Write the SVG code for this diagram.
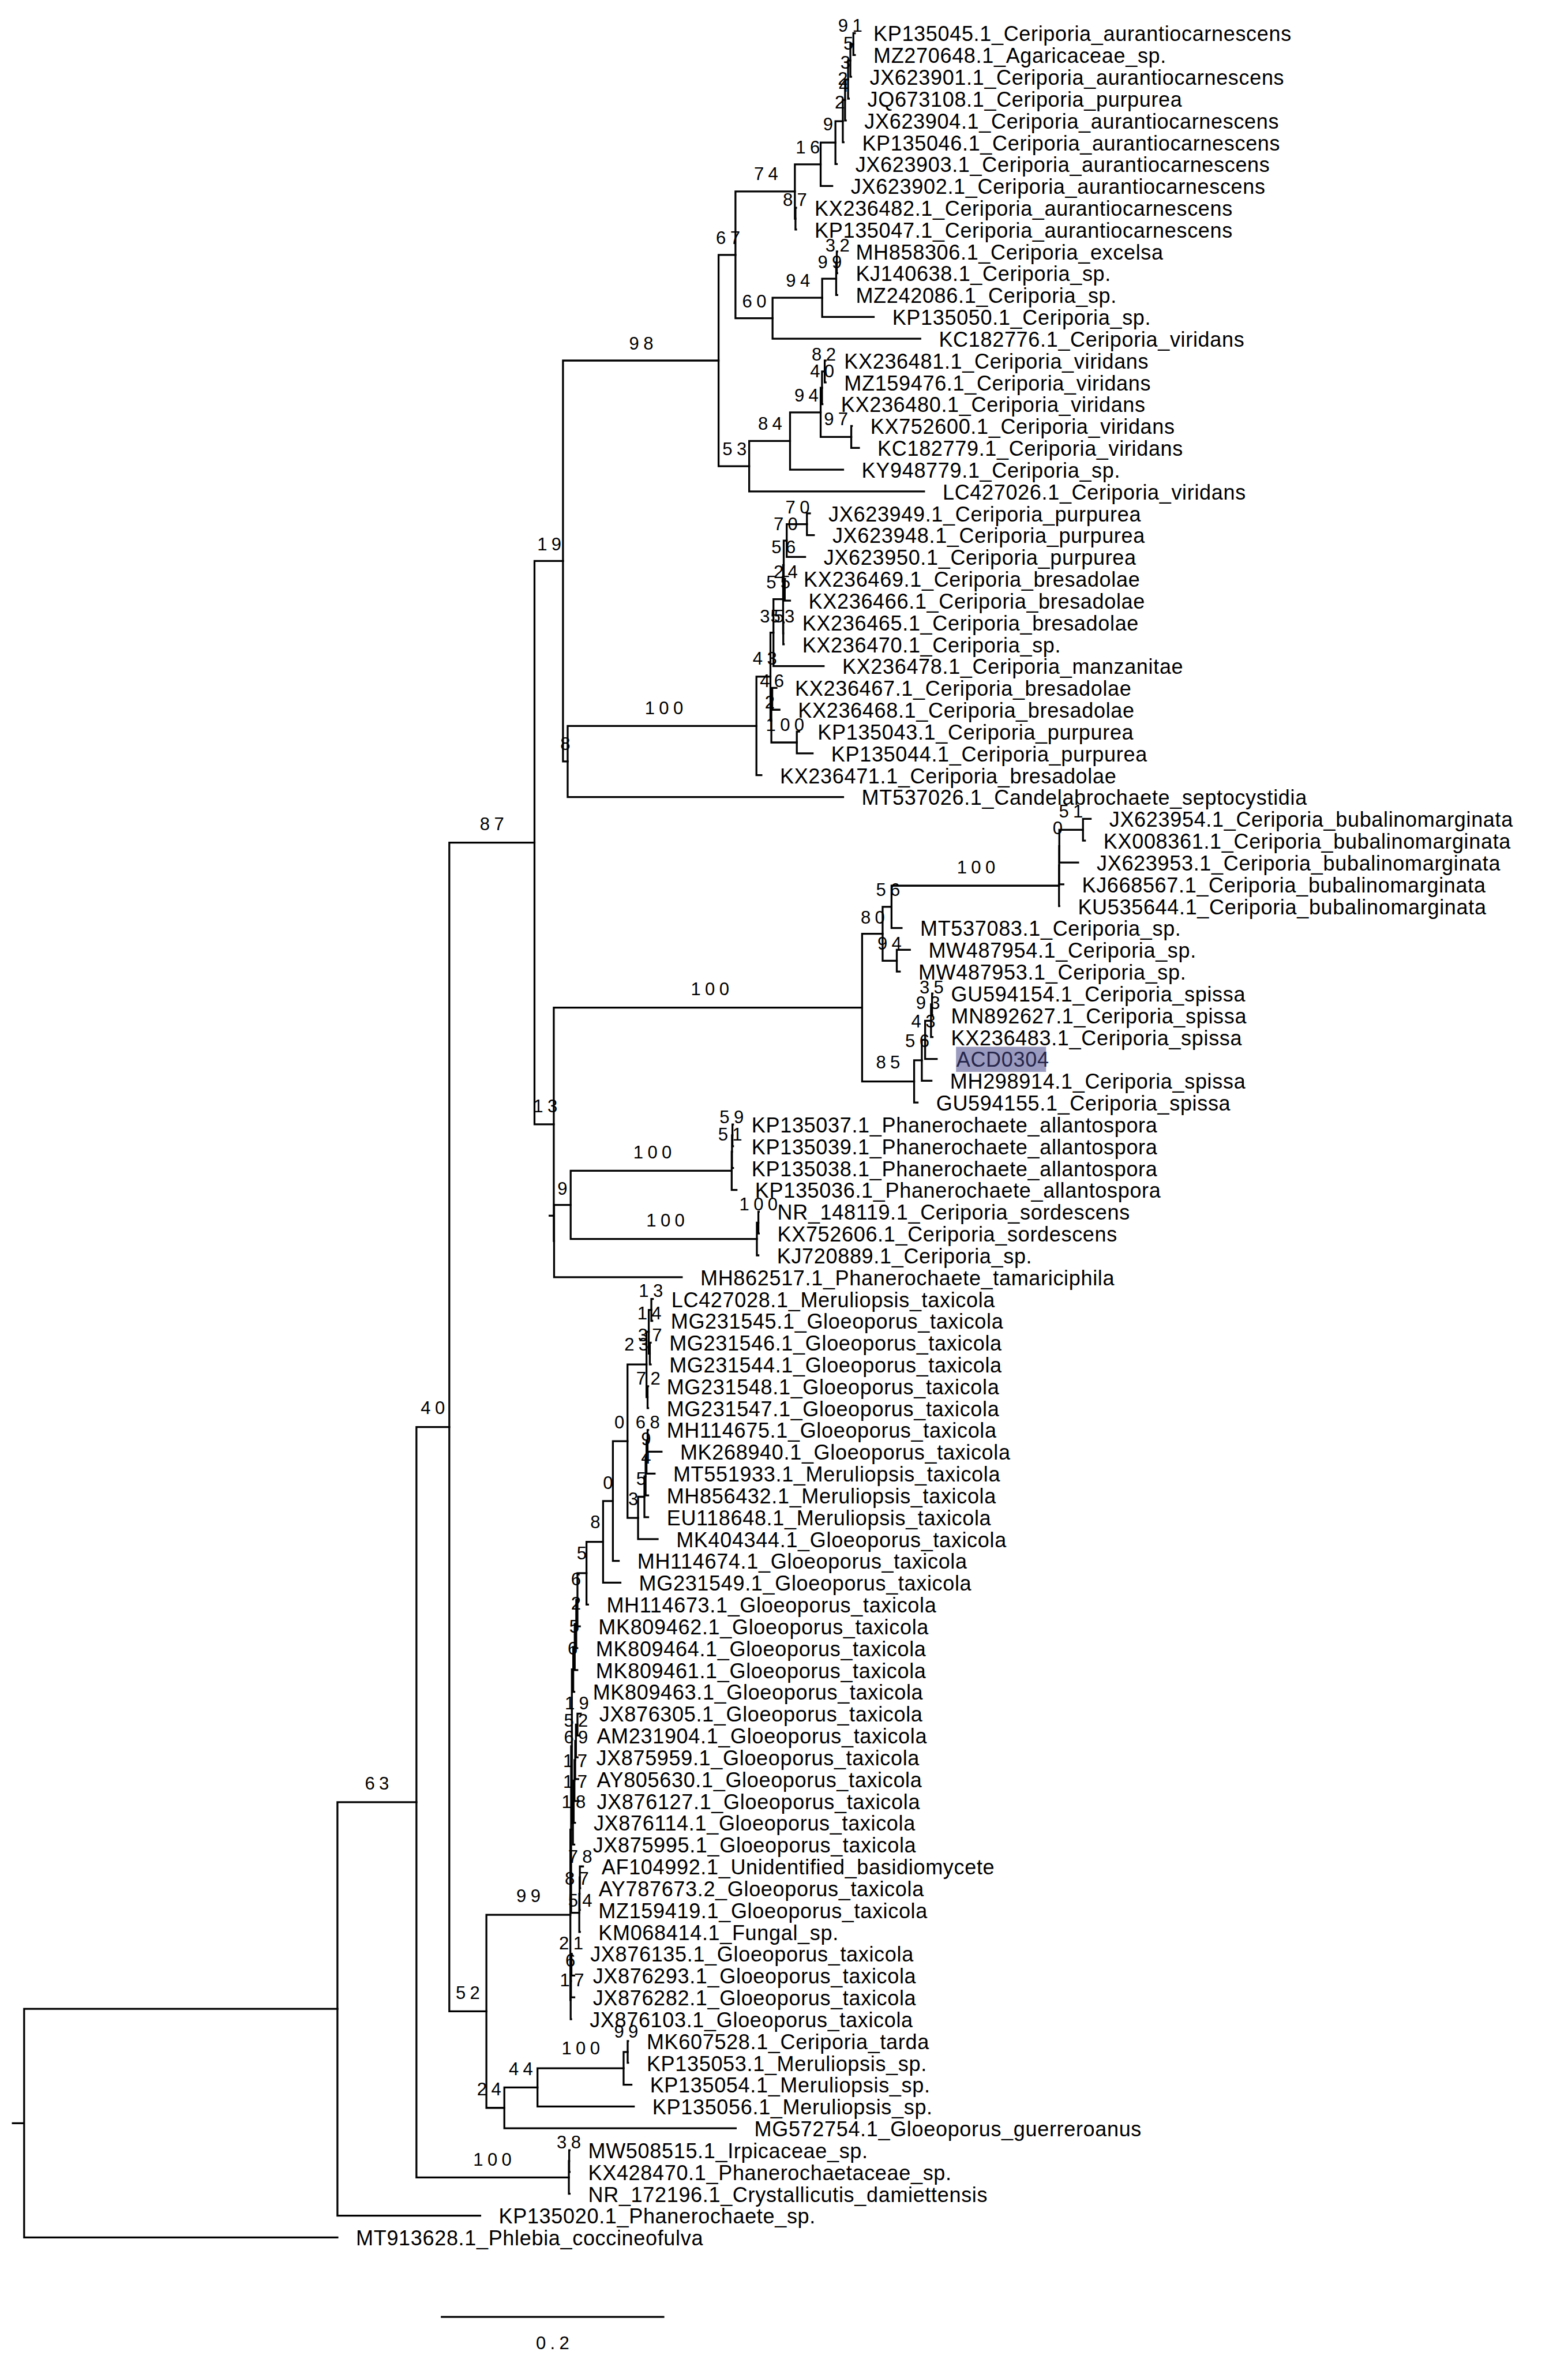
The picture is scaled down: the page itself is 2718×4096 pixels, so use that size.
<svg xmlns="http://www.w3.org/2000/svg" width="2718" height="4096" viewBox="0 0 2718 4096">
<style>
.b{stroke:#000;stroke-width:1.25;fill:none;stroke-linecap:square}
.t{font-family:"Liberation Sans",Arial,Helvetica,sans-serif;font-size:13.8px;letter-spacing:0.25px;fill:#000}
.s{font-family:"Liberation Sans",Arial,Helvetica,sans-serif;font-size:11.9px;letter-spacing:2.8px;text-anchor:middle;fill:#000}
</style>
<rect width="2718" height="4096" fill="#fff"/>
<g transform="scale(2.6135)">
<g id="branches" class="b">
<path d="M566 22V36.48M566 22H567M566 36.48H567"/>
<path d="M564 29.24V50.95M564 29.24H566M564 50.95H564.5"/>
<path d="M562.5 40.1V65.43M562.5 40.1H564M562.5 65.43H563"/>
<path d="M560.5 52.76V79.9M560.5 52.76H562.5M560.5 79.9H561"/>
<path d="M559 66.33V94.38M559 66.33H560.5M559 94.38H559.5"/>
<path d="M554.1 80.36V108.85M554.1 80.36H559M554.1 108.85H555"/>
<path d="M544.3 94.6V123.33M544.3 94.6H554.1M544.3 123.33H552"/>
<path d="M527.6 137.8V152.28M527.6 137.8H528M527.6 152.28H528"/>
<path d="M527.2 108.97V145.04M527.2 108.97H544.3M527.2 145.04H527.6"/>
<path d="M555 166.75V181.23M555 166.75H555.3M555 181.23H555.3"/>
<path d="M554.6 173.99V195.7M554.6 173.99H555M554.6 195.7H555.3"/>
<path d="M545.3 184.85V210.18M545.3 184.85H554.6M545.3 210.18H579.5"/>
<path d="M512.4 197.51V224.65M512.4 197.51H545.3M512.4 224.65H610.4"/>
<path d="M487.8 127V211.08M487.8 127H527.2M487.8 211.08H512.4"/>
<path d="M547 239.13V253.6M547 239.13H547.6M547 253.6H547.6"/>
<path d="M545.2 246.37V268.08M545.2 246.37H547M545.2 268.08H545.5"/>
<path d="M564.6 282.55V297.03M564.6 282.55H565M564.6 297.03H569.7"/>
<path d="M544.3 257.22V289.79M544.3 257.22H545.2M544.3 289.79H564.6"/>
<path d="M524 273.5V311.5M524 273.5H544.3M524 311.5H559.2"/>
<path d="M496.9 292.5V325.98M496.9 292.5H524M496.9 325.98H612.9"/>
<path d="M476.6 169.04V309.24M476.6 169.04H487.8M476.6 309.24H496.9"/>
<path d="M535.2 340.45V354.93M535.2 340.45H537.2M535.2 354.93H539.8"/>
<path d="M521.8 347.69V369.4M521.8 347.69H535.2M521.8 369.4H534"/>
<path d="M520.5 383.88V398.35M520.5 383.88H520.7M520.5 398.35H524"/>
<path d="M519.8 358.55V391.12M519.8 358.55H521.8M519.8 391.12H520.5"/>
<path d="M519.5 412.83V427.3M519.5 412.83H519.8M519.5 427.3H519.8"/>
<path d="M519.4 374.83V420.07M519.4 374.83H519.8M519.4 420.07H519.5"/>
<path d="M513 397.45V441.78M513 397.45H519.4M513 441.78H546.3"/>
<path d="M512.2 456.25V470.73M512.2 456.25H515M512.2 470.73H517"/>
<path d="M528.5 485.2V499.68M528.5 485.2H530M528.5 499.68H539"/>
<path d="M511.6 463.49V492.44M511.6 463.49H512.2M511.6 492.44H528.5"/>
<path d="M511 419.61V477.97M511 419.61H513M511 477.97H511.6"/>
<path d="M501.7 448.79V514.15M501.7 448.79H511M501.7 514.15H505"/>
<path d="M376.5 481.47V528.63M376.5 481.47H501.7M376.5 528.63H559.2"/>
<path d="M373.4 239.14V505.05M373.4 239.14H476.6M373.4 505.05H376.5"/>
<path d="M718.3 543.1V557.58M718.3 543.1H723.4M718.3 557.58H719.6"/>
<path d="M702.6 550.34V572.05M702.6 550.34H718.3M702.6 572.05H715.1"/>
<path d="M702.5 561.2V586.53M702.5 561.2H702.6M702.5 586.53H705.3"/>
<path d="M702.4 573.86V601M702.4 573.86H702.5M702.4 601H702.6"/>
<path d="M591.3 587.43V615.48M591.3 587.43H702.4M591.3 615.48H598"/>
<path d="M594.8 629.95V644.43M594.8 629.95H603.5M594.8 644.43H596.8"/>
<path d="M585.4 601.45V637.19M585.4 601.45H591.3M585.4 637.19H594.8"/>
<path d="M618.2 658.9V673.38M618.2 658.9H618.5M618.2 673.38H618.5"/>
<path d="M617.5 666.14V687.85M617.5 666.14H618.2M617.5 687.85H618.5"/>
<path d="M613.6 677V702.33M613.6 677H617.5M613.6 702.33H621.3"/>
<path d="M611.4 689.66V716.8M611.4 689.66H613.6M611.4 716.8H617.8"/>
<path d="M606.3 703.23V731.28M606.3 703.23H611.4M606.3 731.28H608.6"/>
<path d="M571.8 619.32V717.25M571.8 619.32H585.4M571.8 717.25H606.3"/>
<path d="M485.8 745.75V760.23M485.8 745.75H486.2M485.8 760.23H486.2"/>
<path d="M485.5 752.99V774.7M485.5 752.99H485.8M485.5 774.7H486.2"/>
<path d="M485.3 763.85V789.18M485.3 763.85H485.5M485.3 789.18H488.5"/>
<path d="M503 803.65V818.13M503 803.65H503.3M503 818.13H503.3"/>
<path d="M502 810.89V832.6M502 810.89H503M502 832.6H503"/>
<path d="M378.5 776.51V821.75M378.5 776.51H485.3M378.5 821.75H502"/>
<path d="M367.5 799.13V847.08M367.5 799.13H378.5M367.5 847.08H452.2"/>
<path d="M367.3 668.29V823.1M367.3 668.29H571.8M367.3 823.1H367.5"/>
<path d="M364.5 806.3H366.8"/>
<path d="M354.5 372.1V745.7M354.5 372.1H373.4M354.5 745.7H367.3"/>
<path d="M432 861.55V876.03M432 861.55H433M432 876.03H432.6"/>
<path d="M431 890.5V904.98M431 890.5H431.6M431 904.98H431.6"/>
<path d="M430.3 868.79V897.74M430.3 868.79H432M430.3 897.74H431"/>
<path d="M429.5 919.45V933.93M429.5 919.45H429.9M429.5 933.93H429.9"/>
<path d="M428.8 883.27V926.69M428.8 883.27H430.3M428.8 926.69H429.5"/>
<path d="M429.5 948.4V962.88M429.5 948.4H429.9M429.5 962.88H438.8"/>
<path d="M428.8 955.64V977.35M428.8 955.64H429.5M428.8 977.35H434.2"/>
<path d="M428.2 966.5V991.83M428.2 966.5H428.8M428.2 991.83H429.9"/>
<path d="M427.4 979.16V1006.3M427.4 979.16H428.2M427.4 1006.3H429.9"/>
<path d="M423.2 992.73V1020.78M423.2 992.73H427.4M423.2 1020.78H436.2"/>
<path d="M416.2 904.98V1006.76M416.2 904.98H428.8M416.2 1006.76H423.2"/>
<path d="M406.5 955.87V1035.25M406.5 955.87H416.2M406.5 1035.25H410.4"/>
<path d="M400 995.56V1049.73M400 995.56H406.5M400 1049.73H411.5"/>
<path d="M389 1022.65V1064.2M389 1022.65H400M389 1064.2H390"/>
<path d="M383 1043.42V1078.68M383 1043.42H389M383 1078.68H384.6"/>
<path d="M382.2 1061.05V1093.15M382.2 1061.05H383M382.2 1093.15H382.9"/>
<path d="M381.2 1077.1V1107.63M381.2 1077.1H382.2M381.2 1107.63H382.9"/>
<path d="M380.2 1092.37V1122.1M380.2 1092.37H381.2M380.2 1122.1H380.9"/>
<path d="M383 1136.58V1151.05M383 1136.58H385.2M383 1151.05H383.5"/>
<path d="M382 1143.82V1165.53M382 1143.82H383M382 1165.53H383.1"/>
<path d="M381.5 1154.67V1180M381.5 1154.67H382M381.5 1180H383.5"/>
<path d="M381 1167.34V1194.48M381 1167.34H381.5M381 1194.48H383.5"/>
<path d="M380.5 1180.91V1208.95M380.5 1180.91H381M380.5 1208.95H381.4"/>
<path d="M380 1194.93V1223.43M380 1194.93H380.5M380 1223.43H380.9"/>
<path d="M379.3 1107.23V1209.18M379.3 1107.23H380.2M379.3 1209.18H380"/>
<path d="M384.6 1237.9V1252.38M384.6 1237.9H386.7M384.6 1252.38H384.8"/>
<path d="M384.4 1245.14V1266.85M384.4 1245.14H384.6M384.4 1266.85H384.6"/>
<path d="M384.2 1256V1281.33M384.2 1256H384.4M384.2 1281.33H384.6"/>
<path d="M378.8 1158.2V1268.66M378.8 1158.2H379.3M378.8 1268.66H384.2"/>
<path d="M379 1295.8V1310.28M379 1295.8H379.2M379 1310.28H380.9"/>
<path d="M378.7 1303.04V1324.75M378.7 1303.04H379M378.7 1324.75H380.9"/>
<path d="M378.5 1313.9V1339.23M378.5 1313.9H378.7M378.5 1339.23H378.8"/>
<path d="M378.3 1213.43V1326.56M378.3 1213.43H378.8M378.3 1326.56H378.5"/>
<path d="M416.3 1353.7V1368.18M416.3 1353.7H416.6M416.3 1368.18H416.6"/>
<path d="M413.6 1360.94V1382.65M413.6 1360.94H416.3M413.6 1382.65H418.8"/>
<path d="M356.5 1371.8V1397.13M356.5 1371.8H413.6M356.5 1397.13H420.4"/>
<path d="M334.5 1384.46V1411.6M334.5 1384.46H356.5M334.5 1411.6H488"/>
<path d="M322.6 1270V1398.03M322.6 1270H378.3M322.6 1398.03H334.5"/>
<path d="M298 558.9V1334M298 558.9H354.5M298 1334H322.6"/>
<path d="M377.5 1426.08V1440.55M377.5 1426.08H377.8M377.5 1440.55H377.8"/>
<path d="M377.3 1433.32V1455.03M377.3 1433.32H377.5M377.3 1455.03H377.8"/>
<path d="M276.2 946.45V1444.17M276.2 946.45H298M276.2 1444.17H377.3"/>
<path d="M223.8 1195.3V1469.5M223.8 1195.3H276.2M223.8 1469.5H318.5"/>
<path d="M16 1332.4V1483.98M16 1332.4H223.8M16 1483.98H223.8M8.5 1408.2H16"/>
</g>
<g id="scalebar">
<path class="b" d="M293 1536.7H440"/>
<text class="s" x="367.9" y="1558">0.2</text>
</g>
<g id="support" transform="translate(1.4 0)">
<text class="s" x="563.9" y="21.2">91</text>
<text class="s" x="562.7" y="32.9">5</text>
<text class="s" x="560.7" y="45.6">3</text>
<text class="s" x="559" y="56.2">2</text>
<text class="s" x="559.7" y="60.9">4</text>
<text class="s" x="557" y="72">2</text>
<text class="s" x="549.2" y="86.3">9</text>
<text class="s" x="535.8" y="101.7">16</text>
<text class="s" x="508.1" y="119.2">74</text>
<text class="s" x="527.2" y="136.6">87</text>
<text class="s" x="482.9" y="161.7">67</text>
<text class="s" x="555.5" y="166.7">32</text>
<text class="s" x="550.4" y="177.9">99</text>
<text class="s" x="529.3" y="190.1">94</text>
<text class="s" x="500.3" y="203.8">60</text>
<text class="s" x="425.3" y="231.8">98</text>
<text class="s" x="546.4" y="239">82</text>
<text class="s" x="545.3" y="250.1">40</text>
<text class="s" x="534.9" y="266.4">94</text>
<text class="s" x="554.5" y="282.1">97</text>
<text class="s" x="510.8" y="285.1">84</text>
<text class="s" x="487.2" y="302">53</text>
<text class="s" x="529" y="340.7">70</text>
<text class="s" x="521.1" y="351.8">70</text>
<text class="s" x="364.3" y="365.1">19</text>
<text class="s" x="519.7" y="367.1">56</text>
<text class="s" x="521.1" y="383.5">24</text>
<text class="s" x="516.2" y="390.1">55</text>
<text class="s" x="512" y="412.7">35</text>
<text class="s" x="519" y="412.7">53</text>
<text class="s" x="507.3" y="440.9">43</text>
<text class="s" x="512" y="455.6">46</text>
<text class="s" x="510.6" y="469.7">2</text>
<text class="s" x="440.4" y="473.8">100</text>
<text class="s" x="520.7" y="484.8">100</text>
<text class="s" x="374.9" y="497.6">8</text>
<text class="s" x="710.3" y="542">51</text>
<text class="s" x="326.3" y="550.6">87</text>
<text class="s" x="701.5" y="553.1">0</text>
<text class="s" x="647.4" y="579.4">100</text>
<text class="s" x="589" y="594.1">56</text>
<text class="s" x="578.9" y="612.6">80</text>
<text class="s" x="590" y="629.8">94</text>
<text class="s" x="617.9" y="658.9">35</text>
<text class="s" x="470.9" y="660.2">100</text>
<text class="s" x="615.5" y="669.4">93</text>
<text class="s" x="612.4" y="681.3">43</text>
<text class="s" x="608.4" y="694.5">56</text>
<text class="s" x="589" y="708.8">85</text>
<text class="s" x="361.7" y="737.6">13</text>
<text class="s" x="485.3" y="744.8">59</text>
<text class="s" x="484.3" y="756.6">51</text>
<text class="s" x="432.8" y="768.2">100</text>
<text class="s" x="373" y="792.3">9</text>
<text class="s" x="503.1" y="802.9">100</text>
<text class="s" x="441.4" y="813.5">100</text>
<text class="s" x="431.7" y="860.3">13</text>
<text class="s" x="430.7" y="875">14</text>
<text class="s" x="431.1" y="889.7">37</text>
<text class="s" x="422.1" y="895.9">23</text>
<text class="s" x="430" y="918.5">72</text>
<text class="s" x="287.1" y="937.9">40</text>
<text class="s" x="410.8" y="947.3">0</text>
<text class="s" x="429.6" y="947.3">68</text>
<text class="s" x="428.5" y="958.3">9</text>
<text class="s" x="428.5" y="970.6">4</text>
<text class="s" x="425.3" y="984.7">5</text>
<text class="s" x="403.3" y="987.7">0</text>
<text class="s" x="420" y="998.1">3</text>
<text class="s" x="394.8" y="1013.5">8</text>
<text class="s" x="385.8" y="1034.3">5</text>
<text class="s" x="382" y="1051.5">6</text>
<text class="s" x="382" y="1067.7">2</text>
<text class="s" x="380.9" y="1082.7">5</text>
<text class="s" x="379.8" y="1097.2">6</text>
<text class="s" x="382.6" y="1133.7">19</text>
<text class="s" x="382" y="1145.3">52</text>
<text class="s" x="382" y="1156.3">69</text>
<text class="s" x="381.5" y="1171.9">17</text>
<text class="s" x="250" y="1186.9">63</text>
<text class="s" x="381.5" y="1185.8">17</text>
<text class="s" x="380.5" y="1199.1">18</text>
<text class="s" x="384.8" y="1235.6">78</text>
<text class="s" x="382.6" y="1250.1">87</text>
<text class="s" x="350.5" y="1261.7">99</text>
<text class="s" x="384.8" y="1264.5">54</text>
<text class="s" x="378.8" y="1292.9">21</text>
<text class="s" x="378.3" y="1304.5">6</text>
<text class="s" x="379.4" y="1317.2">17</text>
<text class="s" x="310.3" y="1325.7">52</text>
<text class="s" x="415.3" y="1351.4">99</text>
<text class="s" x="385.2" y="1362.4">100</text>
<text class="s" x="345.5" y="1376.2">44</text>
<text class="s" x="324.4" y="1389.7">24</text>
<text class="s" x="377.3" y="1425">38</text>
<text class="s" x="326.6" y="1436.3">100</text>
</g>
<g id="leaves" class="t">
<g id="leaf-KP135045"><text x="579.3" y="27.3">KP135045.1_Ceriporia_aurantiocarnescens</text></g>
<g id="leaf-MZ270648"><text x="579.3" y="41.78">MZ270648.1_Agaricaceae_sp.</text></g>
<g id="leaf-JX623901"><text x="576.8" y="56.25">JX623901.1_Ceriporia_aurantiocarnescens</text></g>
<g id="leaf-JQ673108"><text x="575.3" y="70.73">JQ673108.1_Ceriporia_purpurea</text></g>
<g id="leaf-JX623904"><text x="573.3" y="85.2">JX623904.1_Ceriporia_aurantiocarnescens</text></g>
<g id="leaf-KP135046"><text x="571.8" y="99.68">KP135046.1_Ceriporia_aurantiocarnescens</text></g>
<g id="leaf-JX623903"><text x="567.3" y="114.15">JX623903.1_Ceriporia_aurantiocarnescens</text></g>
<g id="leaf-JX623902"><text x="564.3" y="128.63">JX623902.1_Ceriporia_aurantiocarnescens</text></g>
<g id="leaf-KX236482"><text x="540.3" y="143.1">KX236482.1_Ceriporia_aurantiocarnescens</text></g>
<g id="leaf-KP135047"><text x="540.3" y="157.58">KP135047.1_Ceriporia_aurantiocarnescens</text></g>
<g id="leaf-MH858306"><text x="567.6" y="172.05">MH858306.1_Ceriporia_excelsa</text></g>
<g id="leaf-KJ140638"><text x="567.6" y="186.53">KJ140638.1_Ceriporia_sp.</text></g>
<g id="leaf-MZ242086"><text x="567.6" y="201">MZ242086.1_Ceriporia_sp.</text></g>
<g id="leaf-KP135050"><text x="591.8" y="215.48">KP135050.1_Ceriporia_sp.</text></g>
<g id="leaf-KC182776"><text x="622.7" y="229.95">KC182776.1_Ceriporia_viridans</text></g>
<g id="leaf-KX236481"><text x="559.9" y="244.43">KX236481.1_Ceriporia_viridans</text></g>
<g id="leaf-MZ159476"><text x="559.9" y="258.9">MZ159476.1_Ceriporia_viridans</text></g>
<g id="leaf-KX236480"><text x="557.8" y="273.38">KX236480.1_Ceriporia_viridans</text></g>
<g id="leaf-KX752600"><text x="577.3" y="287.85">KX752600.1_Ceriporia_viridans</text></g>
<g id="leaf-KC182779"><text x="582" y="302.33">KC182779.1_Ceriporia_viridans</text></g>
<g id="leaf-KY948779"><text x="571.5" y="316.8">KY948779.1_Ceriporia_sp.</text></g>
<g id="leaf-LC427026"><text x="625.2" y="331.28">LC427026.1_Ceriporia_viridans</text></g>
<g id="leaf-JX623949"><text x="549.5" y="345.75">JX623949.1_Ceriporia_purpurea</text></g>
<g id="leaf-JX623948"><text x="552.1" y="360.23">JX623948.1_Ceriporia_purpurea</text></g>
<g id="leaf-JX623950"><text x="546.3" y="374.7">JX623950.1_Ceriporia_purpurea</text></g>
<g id="leaf-KX236469"><text x="533" y="389.18">KX236469.1_Ceriporia_bresadolae</text></g>
<g id="leaf-KX236466"><text x="536.3" y="403.65">KX236466.1_Ceriporia_bresadolae</text></g>
<g id="leaf-KX236465"><text x="532.1" y="418.13">KX236465.1_Ceriporia_bresadolae</text></g>
<g id="leaf-KX236470"><text x="532.1" y="432.6">KX236470.1_Ceriporia_sp.</text></g>
<g id="leaf-KX236478"><text x="558.6" y="447.08">KX236478.1_Ceriporia_manzanitae</text></g>
<g id="leaf-KX236467"><text x="527.3" y="461.55">KX236467.1_Ceriporia_bresadolae</text></g>
<g id="leaf-KX236468"><text x="529.3" y="476.03">KX236468.1_Ceriporia_bresadolae</text></g>
<g id="leaf-KP135043"><text x="542.3" y="490.5">KP135043.1_Ceriporia_purpurea</text></g>
<g id="leaf-KP135044"><text x="551.3" y="504.98">KP135044.1_Ceriporia_purpurea</text></g>
<g id="leaf-KX236471"><text x="517.3" y="519.45">KX236471.1_Ceriporia_bresadolae</text></g>
<g id="leaf-MT537026"><text x="571.5" y="533.93">MT537026.1_Candelabrochaete_septocystidia</text></g>
<g id="leaf-JX623954"><text x="735.7" y="548.4">JX623954.1_Ceriporia_bubalinomarginata</text></g>
<g id="leaf-KX008361"><text x="731.9" y="562.88">KX008361.1_Ceriporia_bubalinomarginata</text></g>
<g id="leaf-JX623953"><text x="727.4" y="577.35">JX623953.1_Ceriporia_bubalinomarginata</text></g>
<g id="leaf-KJ668567"><text x="717.6" y="591.83">KJ668567.1_Ceriporia_bubalinomarginata</text></g>
<g id="leaf-KU535644"><text x="714.9" y="606.3">KU535644.1_Ceriporia_bubalinomarginata</text></g>
<g id="leaf-MT537083"><text x="610.3" y="620.78">MT537083.1_Ceriporia_sp.</text></g>
<g id="leaf-MW487954"><text x="615.8" y="635.25">MW487954.1_Ceriporia_sp.</text></g>
<g id="leaf-MW487953"><text x="609.1" y="649.73">MW487953.1_Ceriporia_sp.</text></g>
<g id="leaf-GU594154"><text x="630.8" y="664.2">GU594154.1_Ceriporia_spissa</text></g>
<g id="leaf-MN892627"><text x="630.8" y="678.68">MN892627.1_Ceriporia_spissa</text></g>
<g id="leaf-KX236483"><text x="630.8" y="693.15">KX236483.1_Ceriporia_spissa</text></g>
<g id="leaf-ACD0304"><rect x="634.1" y="694.3" width="59.7" height="16.6" fill="#9b9bc0"/><text x="634.3" y="707.63" fill="#26264a" style="fill:#26264a">ACD0304</text></g>
<g id="leaf-MH298914"><text x="630.1" y="722.1">MH298914.1_Ceriporia_spissa</text></g>
<g id="leaf-GU594155"><text x="620.9" y="736.58">GU594155.1_Ceriporia_spissa</text></g>
<g id="leaf-KP135037"><text x="498.5" y="751.05">KP135037.1_Phanerochaete_allantospora</text></g>
<g id="leaf-KP135039"><text x="498.5" y="765.53">KP135039.1_Phanerochaete_allantospora</text></g>
<g id="leaf-KP135038"><text x="498.5" y="780">KP135038.1_Phanerochaete_allantospora</text></g>
<g id="leaf-KP135036"><text x="500.8" y="794.48">KP135036.1_Phanerochaete_allantospora</text></g>
<g id="leaf-NR_148119"><text x="515.6" y="808.95">NR_148119.1_Ceriporia_sordescens</text></g>
<g id="leaf-KX752606"><text x="515.6" y="823.43">KX752606.1_Ceriporia_sordescens</text></g>
<g id="leaf-KJ720889"><text x="515.3" y="837.9">KJ720889.1_Ceriporia_sp.</text></g>
<g id="leaf-MH862517"><text x="464.5" y="852.38">MH862517.1_Phanerochaete_tamariciphila</text></g>
<g id="leaf-LC427028"><text x="445.3" y="866.85">LC427028.1_Meruliopsis_taxicola</text></g>
<g id="leaf-MG231545"><text x="444.9" y="881.33">MG231545.1_Gloeoporus_taxicola</text></g>
<g id="leaf-MG231546"><text x="443.9" y="895.8">MG231546.1_Gloeoporus_taxicola</text></g>
<g id="leaf-MG231544"><text x="443.9" y="910.28">MG231544.1_Gloeoporus_taxicola</text></g>
<g id="leaf-MG231548"><text x="442.2" y="924.75">MG231548.1_Gloeoporus_taxicola</text></g>
<g id="leaf-MG231547"><text x="442.2" y="939.23">MG231547.1_Gloeoporus_taxicola</text></g>
<g id="leaf-MH114675"><text x="442.2" y="953.7">MH114675.1_Gloeoporus_taxicola</text></g>
<g id="leaf-MK268940"><text x="451.1" y="968.18">MK268940.1_Gloeoporus_taxicola</text></g>
<g id="leaf-MT551933"><text x="446.5" y="982.65">MT551933.1_Meruliopsis_taxicola</text></g>
<g id="leaf-MH856432"><text x="442.2" y="997.13">MH856432.1_Meruliopsis_taxicola</text></g>
<g id="leaf-EU118648"><text x="442.2" y="1011.6">EU118648.1_Meruliopsis_taxicola</text></g>
<g id="leaf-MK404344"><text x="448.5" y="1026.08">MK404344.1_Gloeoporus_taxicola</text></g>
<g id="leaf-MH114674"><text x="422.7" y="1040.55">MH114674.1_Gloeoporus_taxicola</text></g>
<g id="leaf-MG231549"><text x="423.8" y="1055.03">MG231549.1_Gloeoporus_taxicola</text></g>
<g id="leaf-MH114673"><text x="402.3" y="1069.5">MH114673.1_Gloeoporus_taxicola</text></g>
<g id="leaf-MK809462"><text x="396.9" y="1083.98">MK809462.1_Gloeoporus_taxicola</text></g>
<g id="leaf-MK809464"><text x="395.2" y="1098.45">MK809464.1_Gloeoporus_taxicola</text></g>
<g id="leaf-MK809461"><text x="395.2" y="1112.93">MK809461.1_Gloeoporus_taxicola</text></g>
<g id="leaf-MK809463"><text x="393.2" y="1127.4">MK809463.1_Gloeoporus_taxicola</text></g>
<g id="leaf-JX876305"><text x="397.5" y="1141.88">JX876305.1_Gloeoporus_taxicola</text></g>
<g id="leaf-AM231904"><text x="395.8" y="1156.35">AM231904.1_Gloeoporus_taxicola</text></g>
<g id="leaf-JX875959"><text x="395.4" y="1170.83">JX875959.1_Gloeoporus_taxicola</text></g>
<g id="leaf-AY805630"><text x="395.8" y="1185.3">AY805630.1_Gloeoporus_taxicola</text></g>
<g id="leaf-JX876127"><text x="395.8" y="1199.78">JX876127.1_Gloeoporus_taxicola</text></g>
<g id="leaf-JX876114"><text x="393.7" y="1214.25">JX876114.1_Gloeoporus_taxicola</text></g>
<g id="leaf-JX875995"><text x="393.2" y="1228.73">JX875995.1_Gloeoporus_taxicola</text></g>
<g id="leaf-AF104992"><text x="399" y="1243.2">AF104992.1_Unidentified_basidiomycete</text></g>
<g id="leaf-AY787673"><text x="397.1" y="1257.68">AY787673.2_Gloeoporus_taxicola</text></g>
<g id="leaf-MZ159419"><text x="396.9" y="1272.15">MZ159419.1_Gloeoporus_taxicola</text></g>
<g id="leaf-KM068414"><text x="396.9" y="1286.63">KM068414.1_Fungal_sp.</text></g>
<g id="leaf-JX876135"><text x="391.5" y="1301.1">JX876135.1_Gloeoporus_taxicola</text></g>
<g id="leaf-JX876293"><text x="393.2" y="1315.58">JX876293.1_Gloeoporus_taxicola</text></g>
<g id="leaf-JX876282"><text x="393.2" y="1330.05">JX876282.1_Gloeoporus_taxicola</text></g>
<g id="leaf-JX876103"><text x="391.1" y="1344.53">JX876103.1_Gloeoporus_taxicola</text></g>
<g id="leaf-MK607528"><text x="428.9" y="1359">MK607528.1_Ceriporia_tarda</text></g>
<g id="leaf-KP135053"><text x="428.9" y="1373.48">KP135053.1_Meruliopsis_sp.</text></g>
<g id="leaf-KP135054"><text x="431.1" y="1387.95">KP135054.1_Meruliopsis_sp.</text></g>
<g id="leaf-KP135056"><text x="432.7" y="1402.43">KP135056.1_Meruliopsis_sp.</text></g>
<g id="leaf-MG572754"><text x="500.3" y="1416.9">MG572754.1_Gloeoporus_guerreroanus</text></g>
<g id="leaf-MW508515"><text x="390.1" y="1431.38">MW508515.1_Irpicaceae_sp.</text></g>
<g id="leaf-KX428470"><text x="390.1" y="1445.85">KX428470.1_Phanerochaetaceae_sp.</text></g>
<g id="leaf-NR_172196"><text x="390.1" y="1460.33">NR_172196.1_Crystallicutis_damiettensis</text></g>
<g id="leaf-KP135020"><text x="330.8" y="1474.8">KP135020.1_Phanerochaete_sp.</text></g>
<g id="leaf-MT913628"><text x="236.1" y="1489.28">MT913628.1_Phlebia_coccineofulva</text></g>
</g>
</g>
</svg>
